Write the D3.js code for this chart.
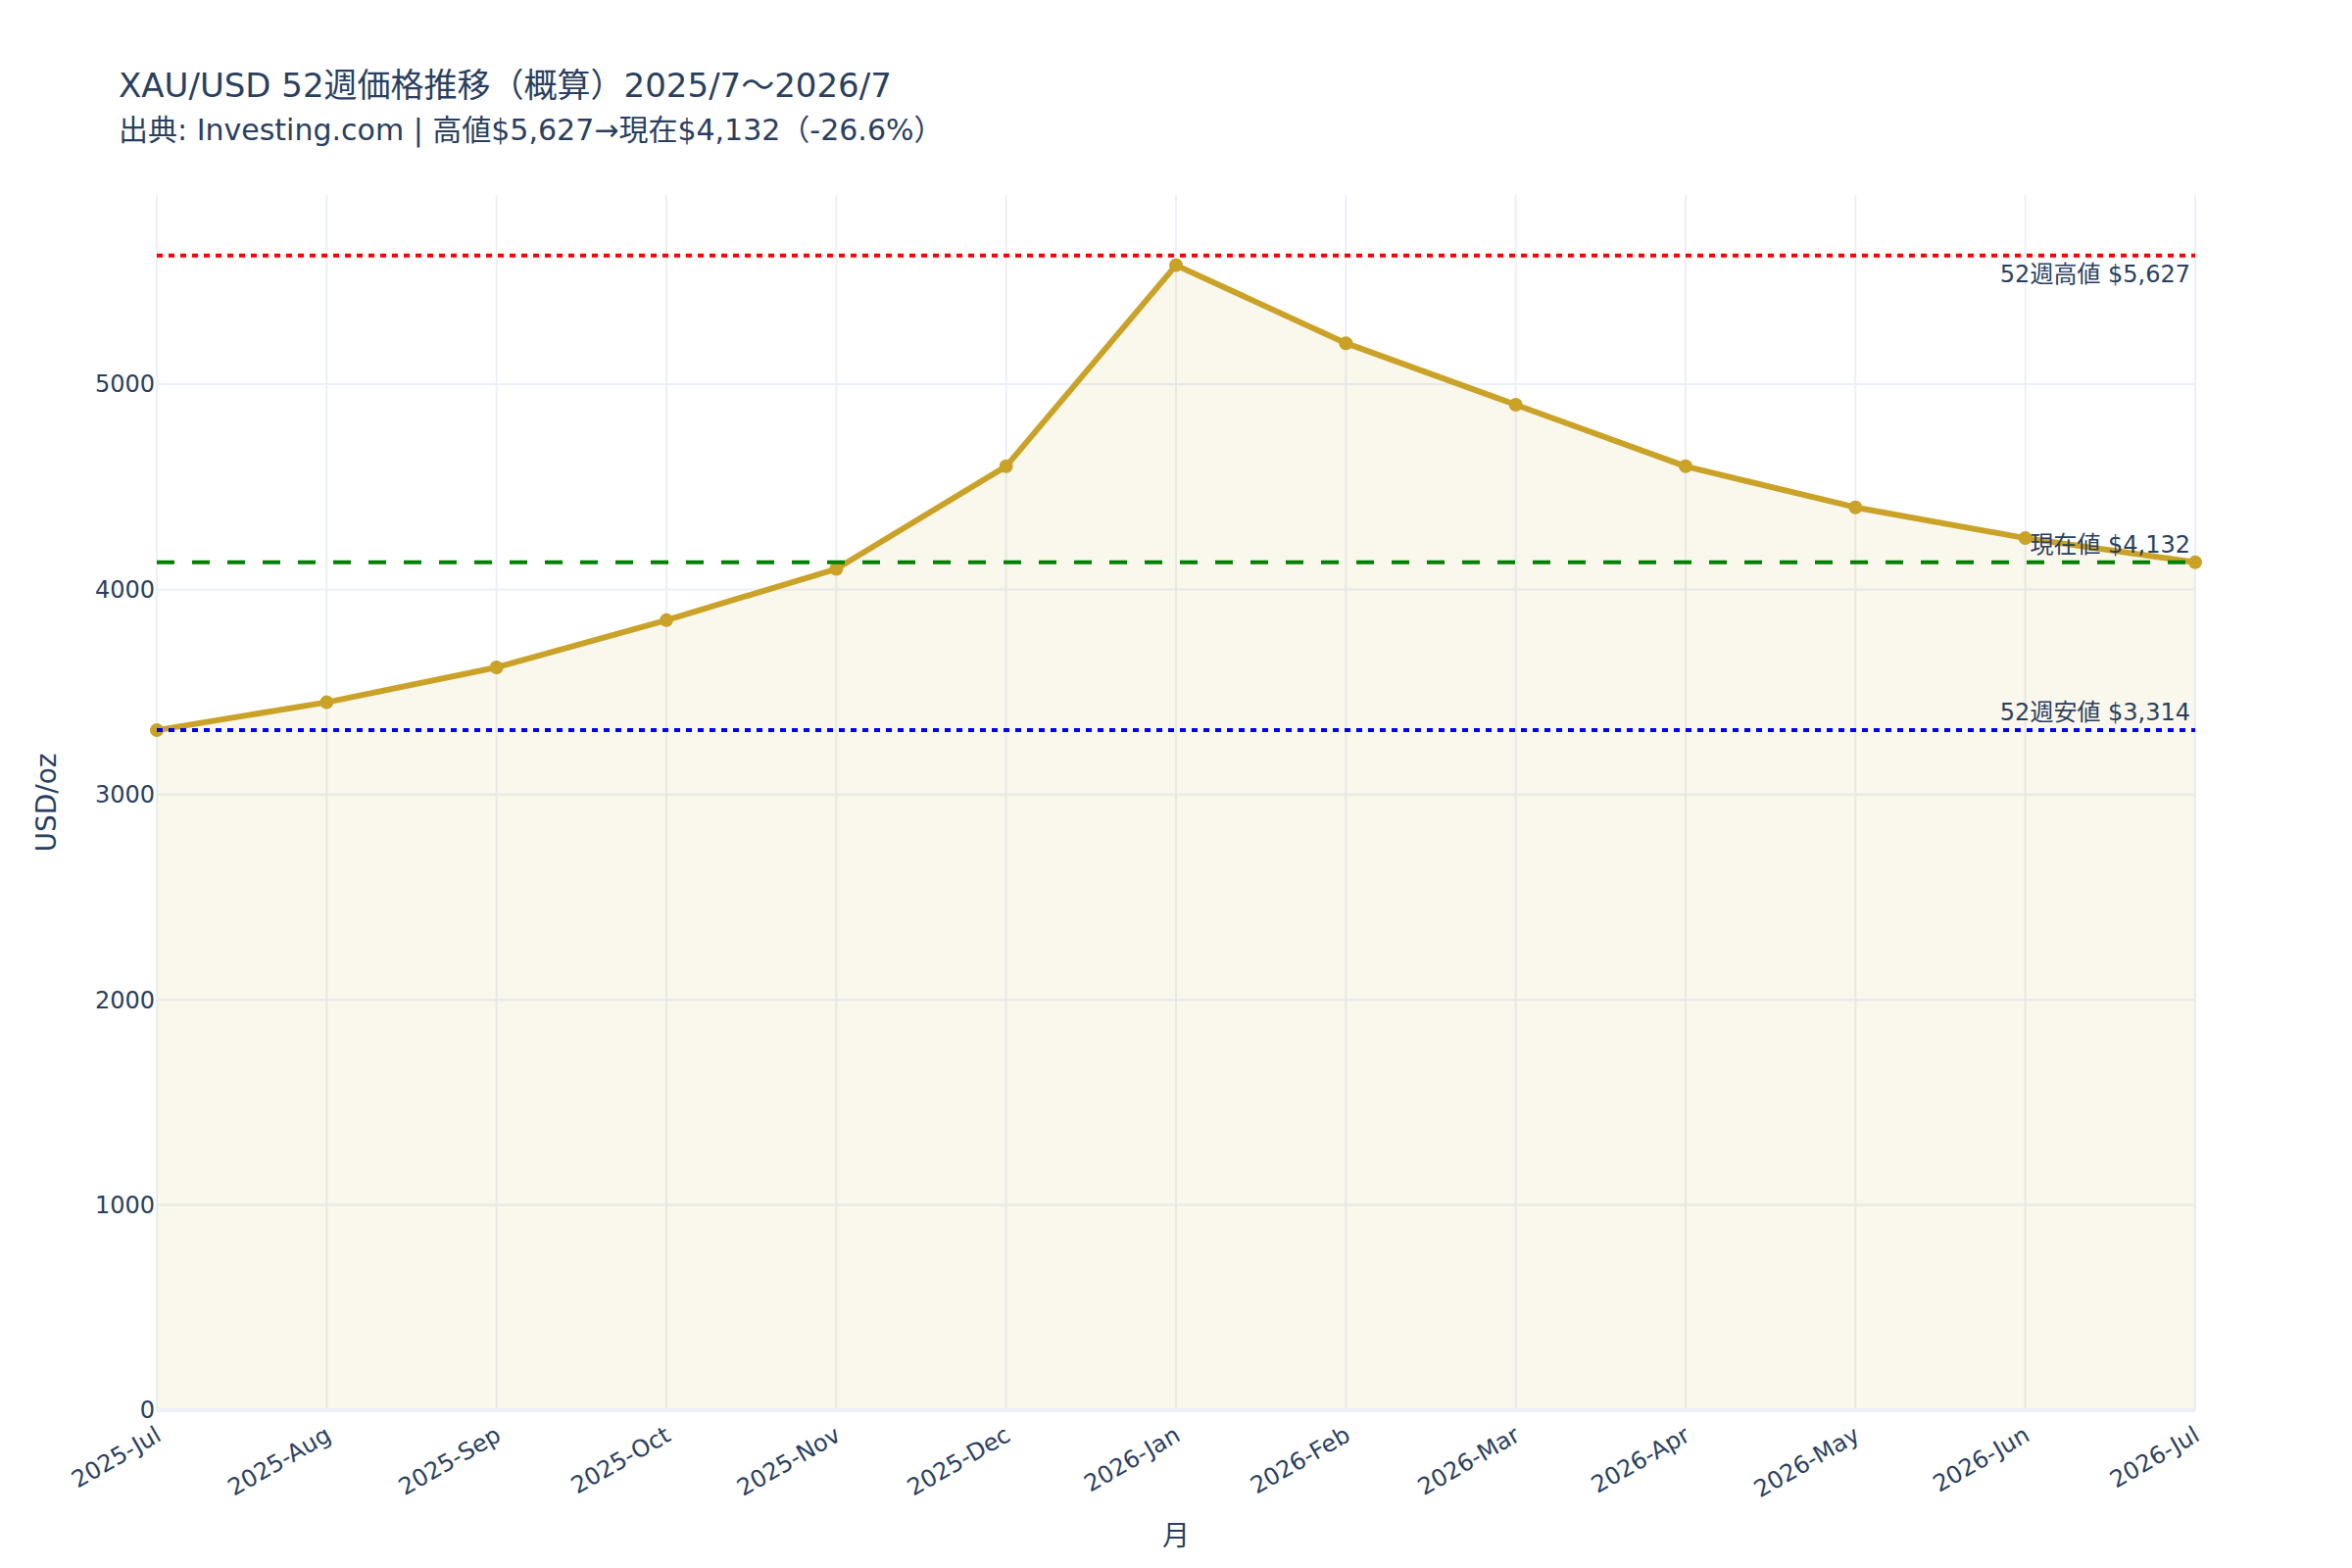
<!DOCTYPE html>
<html>
<head>
<meta charset="utf-8">
<script src="https://cdn.jsdelivr.net/npm/d3@7"></script>
<style>
  html, body { margin: 0; padding: 0; background: #fff; }
  svg text { font-family: "DejaVu Sans", "Noto Sans CJK JP", sans-serif; fill: #2a3f5f; }
</style>
</head>
<body>
<svg id="chart" width="2400" height="1600"></svg>
<script>
// Data
const months = ['2025-Jul', '2025-Aug', '2025-Sep', '2025-Oct', '2025-Nov', '2025-Dec',
    '2026-Jan', '2026-Feb', '2026-Mar', '2026-Apr', '2026-May', '2026-Jun', '2026-Jul'];
const prices = [3314, 3450, 3620, 3850, 4100, 4600, 5580, 5200, 4900, 4600, 4400, 4250, 4132];
const yTicks = [0, 1000, 2000, 3000, 4000, 5000];
const refLines = [
    { value: 5627, label: '52週高値 $5,627', color: '#ff0000', dash: '6,6', pos: 'bottom' },
    { value: 4132, label: '現在値 $4,132', color: '#008000', dash: '18,18', pos: 'top' },
    { value: 3314, label: '52週安値 $3,314', color: '#0000ff', dash: '6,6', pos: 'top' }
];
const titleText = 'XAU/USD 52週価格推移（概算）2025/7〜2026/7';
const subtitleText = '出典: Investing.com | 高値$5,627→現在$4,132（-26.6%）';

const plot = { left: 160, right: 2240, top: 199, bottom: 1439 };
const gold = '#c9a227';

const svg = d3.select('#chart');

const x = d3.scalePoint().domain(months).range([plot.left, plot.right]).padding(0);
const y = d3.scaleLinear().domain([0, 5922]).range([plot.bottom, plot.top]);

// Grid
const grid = svg.append('g').attr('class', 'grid');
grid.selectAll('line.vgrid')
    .data(months).enter().append('line')
    .attr('x1', d => x(d)).attr('x2', d => x(d))
    .attr('y1', plot.top).attr('y2', plot.bottom)
    .attr('stroke', '#ebf0f8').attr('stroke-width', 2);
grid.selectAll('line.hgrid')
    .data(yTicks.filter(t => t > 0)).enter().append('line')
    .attr('x1', plot.left).attr('x2', plot.right)
    .attr('y1', d => y(d)).attr('y2', d => y(d))
    .attr('stroke', '#ebf0f8').attr('stroke-width', 2);

// Area fill + line
const area = d3.area().x((d, i) => x(months[i])).y0(y(0)).y1(d => y(d));
svg.append('path').datum(prices)
    .attr('d', area)
    .attr('fill', 'rgba(201,162,39,0.09)');

// Zero line
svg.append('line')
    .attr('x1', plot.left).attr('x2', plot.right)
    .attr('y1', y(0)).attr('y2', y(0))
    .attr('stroke', '#ebf0f8').attr('stroke-width', 4);

const line = d3.line().x((d, i) => x(months[i])).y(d => y(d));
svg.append('path').datum(prices)
    .attr('d', line)
    .attr('fill', 'none')
    .attr('stroke', gold)
    .attr('stroke-width', 6)
    .attr('stroke-linejoin', 'round');

svg.append('g').selectAll('circle')
    .data(prices).enter().append('circle')
    .attr('cx', (d, i) => x(months[i]))
    .attr('cy', d => y(d))
    .attr('r', 7)
    .attr('fill', gold);

// Reference lines
refLines.forEach(r => {
    svg.append('line')
        .attr('x1', plot.left).attr('x2', plot.right)
        .attr('y1', y(r.value)).attr('y2', y(r.value))
        .attr('stroke', r.color)
        .attr('stroke-width', 4)
        .attr('stroke-dasharray', r.dash);
});
refLines.forEach(r => {
    svg.append('text')
        .attr('x', plot.right - 5)
        .attr('y', r.pos === 'top' ? y(r.value) - 10 : y(r.value) + 27)
        .attr('text-anchor', 'end')
        .attr('font-size', 24)
        .text(r.label);
});

// Y axis
const yAxis = svg.append('g');
yAxis.selectAll('text')
    .data(yTicks).enter().append('text')
    .attr('x', plot.left - 2)
    .attr('y', d => y(d))
    .attr('dy', '0.35em')
    .attr('text-anchor', 'end')
    .attr('font-size', 24)
    .text(d => d);

// X axis
const xAxis = svg.append('g');
xAxis.selectAll('text')
    .data(months).enter().append('text')
    .attr('transform', d => `translate(${x(d) + 6}, ${plot.bottom + 30}) rotate(-30)`)
    .attr('text-anchor', 'end')
    .attr('font-size', 24)
    .text(d => d);

// Axis titles
svg.append('text')
    .attr('transform', `translate(57, ${(plot.top + plot.bottom) / 2}) rotate(-90)`)
    .attr('text-anchor', 'middle')
    .attr('font-size', 28)
    .text('USD/oz');
svg.append('text')
    .attr('x', (plot.left + plot.right) / 2)
    .attr('y', 1577)
    .attr('text-anchor', 'middle')
    .attr('font-size', 28)
    .text('月');

// Title
svg.append('text')
    .attr('x', 121).attr('y', 99)
    .attr('font-size', 34)
    .text(titleText);
svg.append('text')
    .attr('x', 121).attr('y', 143)
    .attr('font-size', 30)
    .text(subtitleText);
</script>
</body>
</html>
